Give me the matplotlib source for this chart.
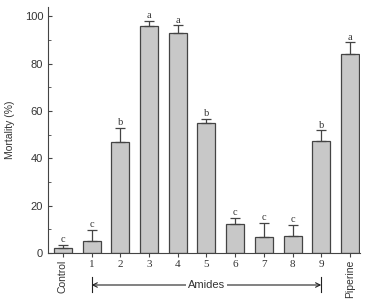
import matplotlib.pyplot as plt
import matplotlib.transforms as mtransforms
from matplotlib.ticker import MultipleLocator

# data
labels = ["Control", "1", "2", "3", "4", "5", "6", "7", "8", "9", "Piperine"]
mortality = [2.3, 5.1, 47.0, 95.8, 92.9, 54.8, 12.4, 6.6, 7.3, 47.5, 84.0]
errors = [1.2, 4.7, 6.0, 2.3, 3.4, 2.0, 2.5, 6.2, 4.7, 4.3, 5.2]
groups = ["c", "c", "b", "a", "a", "b", "c", "c", "c", "b", "a"]

bar_color = "#c8c8c8"
edge_color = "#444444"
text_color = "#333333"

fig = plt.figure(figsize=(3.67, 2.99), dpi=100)
ax = fig.add_axes([48 / 367, 1 - 253 / 299, 312 / 367, 246 / 299])

x = list(range(len(labels)))
ax.bar(x, mortality, width=0.63, color=bar_color, edgecolor=edge_color, linewidth=0.9)
ax.errorbar(x, mortality, yerr=[[0] * len(errors), errors], fmt="none",
            ecolor=edge_color, elinewidth=0.9, capsize=3.5, capthick=0.9)

# significance letters above the error bars
for xi, m, e, g in zip(x, mortality, errors, groups):
    ax.text(xi, m + e + 0.2, g, ha="center", va="bottom", fontsize=7.5,
            family="Liberation Serif", color=text_color)

ax.set_xlim(-0.52, 10.35)
ax.set_ylim(0, 104)
ax.yaxis.set_major_locator(MultipleLocator(20))
ax.yaxis.set_minor_locator(MultipleLocator(10))
ax.tick_params(axis="y", which="both", direction="in", colors=edge_color,
               labelcolor=text_color, labelsize=8)
ax.tick_params(axis="y", which="major", length=3)
ax.tick_params(axis="y", which="minor", length=2)
for lab in ax.get_yticklabels():
    lab.set_family("Liberation Sans")

ax.set_xticks(x)
ax.set_xticklabels(labels)
ax.tick_params(axis="x", direction="out", length=3, colors=edge_color,
               labelcolor=text_color, labelsize=8, pad=2)
for i, lab in enumerate(ax.get_xticklabels()):
    if i in (0, len(labels) - 1):
        lab.set_rotation(90)
        lab.set_family("Liberation Sans")
        lab.set_fontsize(7.5)
    else:
        lab.set_family("Liberation Serif")

ax.spines["top"].set_visible(False)
ax.spines["right"].set_visible(False)
ax.spines["left"].set_color(edge_color)
ax.spines["bottom"].set_color(edge_color)

ax.set_ylabel("Mortality (%)", fontsize=7.5, family="Liberation Sans",
              color=text_color, labelpad=7)

# "Amides" bracket under compounds 1 to 9
trans = mtransforms.blended_transform_factory(ax.transData, ax.transAxes)
y_arrow = -(285 - 253) / 246
ax.annotate("", xy=(1, y_arrow), xytext=(9, y_arrow), xycoords=trans,
            textcoords=trans,
            arrowprops=dict(arrowstyle="<->", color="#222222", lw=0.8,
                            shrinkA=0, shrinkB=0, mutation_scale=8))
for xe in (1, 9):
    ax.plot([xe, xe], [y_arrow - 7 / 246, y_arrow + 8 / 246], transform=trans,
            color="#222222", lw=0.8, clip_on=False)
ax.text(5, y_arrow, "Amides", transform=trans, ha="center", va="center",
        fontsize=8, family="Liberation Sans", color=text_color,
        bbox=dict(facecolor="white", edgecolor="none", pad=1.5))

fig.savefig("out.png", dpi=100)
